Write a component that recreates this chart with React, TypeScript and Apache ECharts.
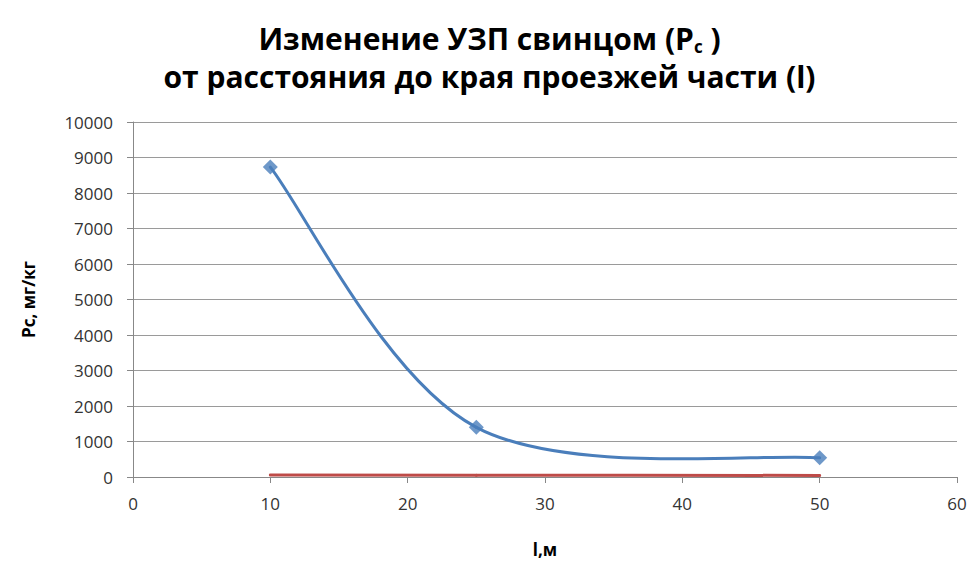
import React, { useEffect, useRef } from "react";
import * as echarts from "echarts";

const distances = [10, 25, 50];
const leadValues = [8730, 1400, 540];
const secondValues = [55, 50, 45];
const yTicks = [0, 1000, 2000, 3000, 4000, 5000, 6000, 7000, 8000, 9000, 10000];
const xTicks = [0, 10, 20, 30, 40, 50, 60];

export default function App() {
  const ref = useRef<HTMLDivElement>(null);
  useEffect(() => {
    const chart = echarts.init(ref.current!, null, { renderer: "svg" });
    const font = "'Open Sans', 'DejaVu Sans', sans-serif";
    const blue = "#4A7EBB";
    const red = "#BE4B48";

    const smoothRender = (xs: number[], ys: number[], color: string) => (params: any, api: any) => {
      const i = params.dataIndex;
      if (i >= xs.length - 1) return null;
      const pts = xs.map((x, k) => api.coord([x, ys[k]]));
      const p0 = pts[Math.max(i - 1, 0)];
      const p1 = pts[i];
      const p2 = pts[i + 1];
      const p3 = pts[Math.min(i + 2, pts.length - 1)];
      const c1 = [p1[0] + (p2[0] - p0[0]) / 6, p1[1] + (p2[1] - p0[1]) / 6];
      const c2 = [p2[0] - (p3[0] - p1[0]) / 6, p2[1] - (p3[1] - p1[1]) / 6];
      return {
        type: "bezierCurve",
        shape: { x1: p1[0], y1: p1[1], x2: p2[0], y2: p2[1], cpx1: c1[0], cpy1: c1[1], cpx2: c2[0], cpy2: c2[1] },
        style: { stroke: color, lineWidth: 3, fill: null, lineCap: "round" },
      };
    };

    chart.setOption({
      animation: false,
      backgroundColor: "#ffffff",
      textStyle: { fontFamily: font },
      title: [
        {
          left: "center",
          top: 20,
          padding: 0,
          text: "Изменение УЗП свинцом (P{sub|c} )",
          textStyle: {
            fontFamily: font,
            fontSize: 30,
            fontWeight: "bold",
            color: "#000",
            lineHeight: 36,
            rich: {
              sub: { fontSize: 17, fontWeight: "bold", color: "#000", fontFamily: font, lineHeight: 20, padding: [16, 0, 0, 0] },
            },
          },
        },
        {
          left: "center",
          top: 58,
          padding: 0,
          text: "от расстояния до края проезжей части (l)",
          textStyle: { fontFamily: font, fontSize: 30, fontWeight: "bold", color: "#000", lineHeight: 36 },
        },
      ],
      grid: { left: 133, right: 22, top: 122, bottom: 100, containLabel: false },
      xAxis: {
        type: "value",
        min: xTicks[0],
        max: xTicks[xTicks.length - 1],
        interval: 10,
        name: "l,м",
        nameLocation: "middle",
        nameGap: 64,
        nameTextStyle: { fontFamily: font, fontSize: 17, fontWeight: "bold", color: "#000" },
        axisLine: { lineStyle: { color: "#888", width: 1 } },
        axisTick: { show: true, length: 6, lineStyle: { color: "#888" } },
        axisLabel: { fontFamily: font, fontSize: 17, color: "#333", margin: 18 },
        splitLine: { show: false },
      },
      yAxis: {
        type: "value",
        min: yTicks[0],
        max: yTicks[yTicks.length - 1],
        interval: 1000,
        name: "Pc, мг/кг",
        nameLocation: "middle",
        nameGap: 96,
        nameRotate: 90,
        nameTextStyle: { fontFamily: font, fontSize: 17, fontWeight: "bold", color: "#000" },
        axisLine: { show: true, lineStyle: { color: "#888", width: 1 } },
        axisTick: { show: true, length: 6, lineStyle: { color: "#888" } },
        axisLabel: { fontFamily: font, fontSize: 17, color: "#333", margin: 20, formatter: (v: number) => String(v) },
        splitLine: { show: true, lineStyle: { color: "#9a9a9a", width: 1 } },
      },
      series: [
        {
          type: "custom",
          renderItem: smoothRender(distances, secondValues, red),
          data: distances.map((d, i) => [d, secondValues[i]]),
          encode: { x: 0, y: 1 },
          z: 2,
        },
        {
          type: "custom",
          renderItem: smoothRender(distances, leadValues, blue),
          data: distances.map((d, i) => [d, leadValues[i]]),
          encode: { x: 0, y: 1 },
          z: 3,
        },
        {
          type: "scatter",
          data: distances.map((d, i) => [d, leadValues[i]]),
          symbol: "diamond",
          symbolSize: 15,
          itemStyle: { color: blue },
          z: 4,
        },
      ],
    });
    return () => chart.dispose();
  }, []);
  return <div ref={ref} style={{ width: 979, height: 577, position: "absolute", left: 0, top: 0 }} />;
}
